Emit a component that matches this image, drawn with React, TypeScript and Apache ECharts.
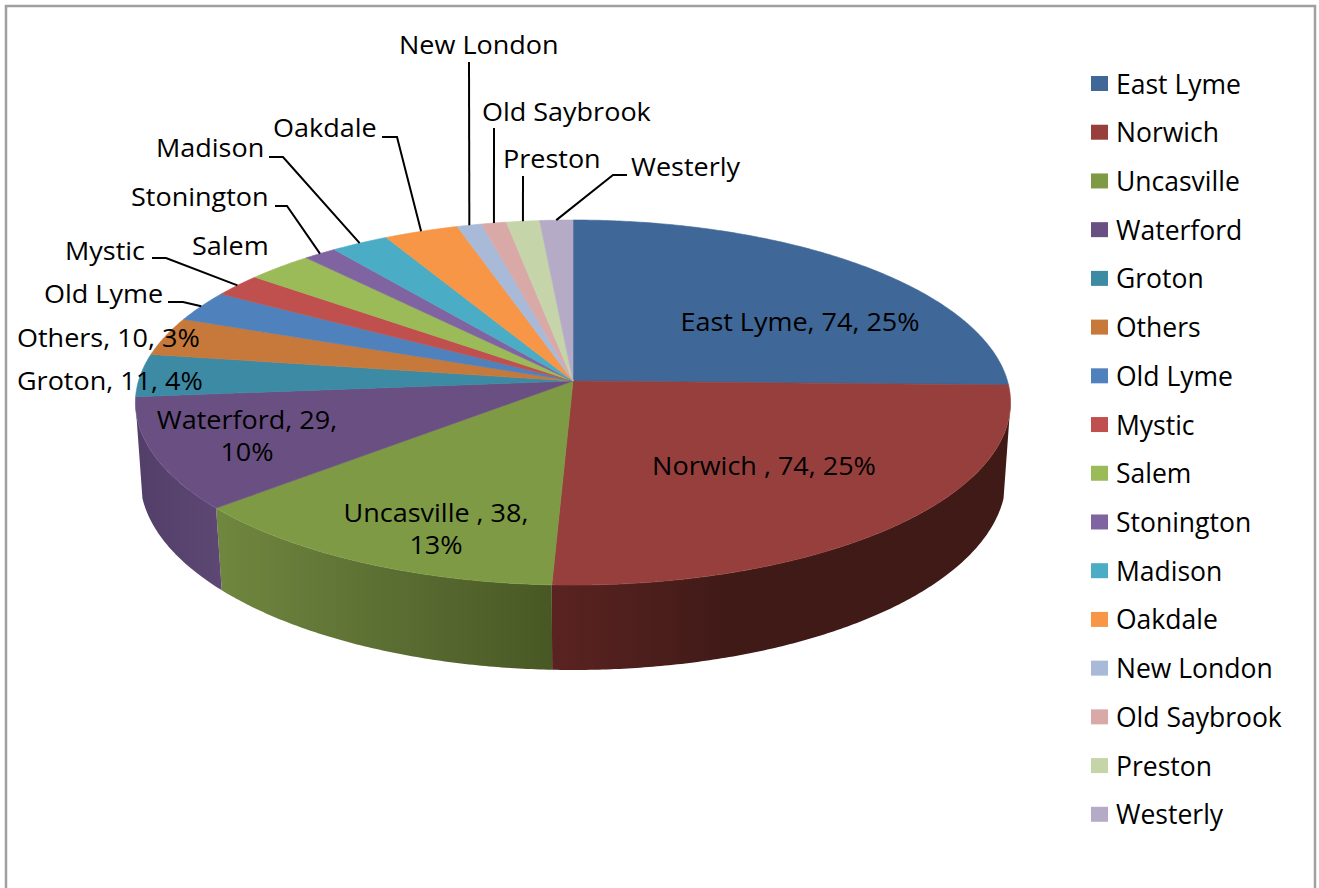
import React, { useEffect, useRef } from "react";
import * as echarts from "echarts";

// ---- data ----
const categories = ["East Lyme", "Norwich ", "Uncasville ", "Waterford", "Groton", "Others", "Old Lyme", "Mystic", "Salem", "Stonington", "Madison", "Oakdale", "New London", "Old Saybrook", "Preston", "Westerly"];
const values = [74, 74, 38, 29, 11, 10, 8, 6, 8, 4, 7, 9, 3, 3, 4, 4];
const topColors = ["#3F6797", "#973F3D", "#7E9A45", "#6A5082", "#3C8AA4", "#C6793A", "#4F81BD", "#C0504D", "#9BBB59", "#8064A2", "#4BACC6", "#F79646", "#A9B9D8", "#D9A9A8", "#C5D5A9", "#B6ABC7"];
const wallStops: Record<number, [number, string][]> = {
  1: [[0, "#5A2321"], [0.4, "#3F1A17"], [1, "#3F1A17"]],
  2: [[0, "#70873F"], [0.5, "#5C6F33"], [1, "#485824"]],
  3: [[0, "#523E68"], [1, "#5D4874"]],
};

// ---- label layout ----
type Lab = { x: number; y: number; align: string; stats?: boolean; wrap?: boolean; leader?: number[][] };
const labelLayout: Record<string, Lab> = {
  "East Lyme": { x: 800, y: 321, align: "center", stats: true },
  "Norwich ": { x: 764, y: 465, align: "center", stats: true },
  "Uncasville ": { x: 436, y: 528, align: "center", stats: true, wrap: true },
  Waterford: { x: 247, y: 435, align: "center", stats: true, wrap: true },
  Groton: { x: 17, y: 380, align: "left", stats: true },
  Others: { x: 17, y: 337, align: "left", stats: true },
  "Old Lyme": { x: 44, y: 293, align: "left", leader: [[168, 302], [183, 302]] },
  Mystic: { x: 65, y: 250, align: "left", leader: [[152, 258], [166, 258]] },
  Salem: { x: 192, y: 245, align: "left" },
  Stonington: { x: 131, y: 196, align: "left", leader: [[275, 206], [287, 206]] },
  Madison: { x: 156, y: 147, align: "left", leader: [[269, 157], [283, 157]] },
  Oakdale: { x: 273, y: 127, align: "left", leader: [[382, 137], [397, 137]] },
  "New London": { x: 399, y: 44, align: "left", leader: [[469, 62]] },
  "Old Saybrook": { x: 482, y: 111, align: "left", leader: [[494, 128]] },
  Preston: { x: 503, y: 158, align: "left", leader: [[523, 176]] },
  Westerly: { x: 631, y: 166, align: "left", leader: [[627, 175], [613, 175]] },
};

// ---- projection of the tilted disc ----
const CX = 573, CY = 381, A = 434.5, B = 180, K = 0.118;
const RIM_Y = 478, RIM_RX = 433, RIM_RY = 192, RIM_SCALE = 430 / 437;
const WALL_FROM = 96.8, WALL_TO = 263.2;
const FONT = '"Open Sans"';
const FONT_SIZE = 25;
const TEXT_STRETCH = 1.08;
const total = values.reduce((a, b) => a + b, 0);

const project = (deg: number) => {
  const t = (deg * Math.PI) / 180;
  const w = 1 + K * Math.cos(t);
  return [CX + (A * Math.sin(t)) / w, CY - (B * Math.cos(t)) / w];
};
const rimBelow = (p: number[]) => {
  const dx = (p[0] - CX) * RIM_SCALE;
  const q = Math.max(0, 1 - (dx * dx) / (RIM_RX * RIM_RX));
  return [CX + dx, RIM_Y + RIM_RY * Math.sqrt(q)];
};
const arcPoints = (from: number, to: number) => {
  const n = Math.max(2, Math.ceil(to - from) * 2);
  const out: number[][] = [];
  for (let i = 0; i <= n; i++) out.push(project(from + ((to - from) * i) / n));
  return out;
};

const makeRender = (index: number) => (_params: any, _api: any) => {
  const before = values.slice(0, index).reduce((a, b) => a + b, 0);
  const from = (before / total) * 360;
  const to = ((before + values[index]) / total) * 360;
  const name = categories[index];
  const color = topColors[index];
  const children: any[] = [];

  const wFrom = Math.max(from, WALL_FROM), wTo = Math.min(to, WALL_TO);
  if (wTo > wFrom && wallStops[index]) {
    const upper = arcPoints(wFrom, wTo);
    const lower = upper.map(rimBelow).reverse();
    const stops = wallStops[index].map(([offset, c]) => ({ offset, color: c }));
    children.push({
      type: "polygon",
      z2: 1,
      shape: { points: upper.concat(lower) },
      style: {
        fill: new echarts.graphic.LinearGradient(0, 0, 1, 0, stops),
        stroke: null,
      },
    });
  }

  children.push({
    type: "polygon",
    z2: 2,
    shape: { points: [[CX, CY], ...arcPoints(from, to)] },
    style: { fill: color, stroke: color, lineWidth: 0.6, lineJoin: "round" },
  });

  const lab = labelLayout[name];
  if (lab.leader) {
    const end = project((from + to) / 2);
    children.push({
      type: "polyline",
      z2: 3,
      shape: { points: [...lab.leader, end] },
      style: { stroke: "#000", lineWidth: 2, fill: null },
    });
  }
  const pct = Math.round((values[index] / total) * 100);
  const text = lab.stats ? `${name}, ${values[index]},${lab.wrap ? "\n" : " "}${pct}%` : name;
  children.push({
    type: "text",
    z2: 4,
    x: lab.x,
    y: lab.y,
    scaleX: TEXT_STRETCH,
    style: {
      text,
      fill: "#000",
      fontFamily: FONT,
      fontSize: FONT_SIZE,
      lineHeight: 32,
      textAlign: lab.align,
      textVerticalAlign: "middle",
    },
  });
  return { type: "group", children };
};

export default function App() {
  const ref = useRef<HTMLDivElement>(null);
  useEffect(() => {
    const chart = echarts.init(ref.current!, null, { renderer: "svg" });
    chart.setOption({
      animation: false,
      backgroundColor: "#fff",
      legend: {
        orient: "vertical",
        left: 1091,
        top: 70,
        padding: 0,
        itemWidth: 17,
        itemHeight: 15,
        itemGap: 21.72,
        icon: "rect",
        selectedMode: false,
        data: categories,
        textStyle: { fontFamily: FONT, fontSize: 26.5, color: "#000", padding: [0, 0, 4, 3] },
      },
      graphic: [
        {
          type: "rect",
          shape: { x: 6, y: 6, width: 1309, height: 900 },
          style: { fill: null, stroke: "#A0A0A0", lineWidth: 2.5 },
        },
      ],
      series: categories.map((name, i) => ({
        type: "custom",
        name,
        coordinateSystem: "none",
        silent: true,
        itemStyle: { color: topColors[i] },
        data: [{ name, value: values[i] }],
        renderItem: makeRender(i),
      })),
    });
    return () => chart.dispose();
  }, []);
  return <div ref={ref} style={{ position: "absolute", left: 0, top: 0, width: 1319, height: 888 }} />;
}
